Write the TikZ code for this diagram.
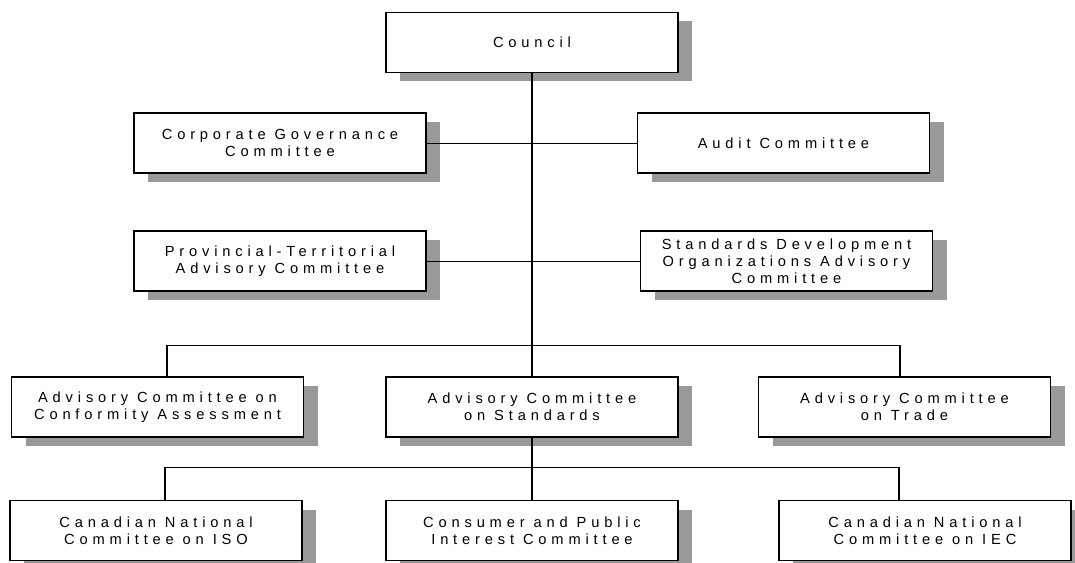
\documentclass[tikz,border=0pt]{standalone}
\usepackage{fontspec}
\setmainfont{Liberation Sans}[LetterSpace=33]
\usetikzlibrary{shadows}
\definecolor{shadowgray}{HTML}{999999}
\tikzset{
  unitbox/.style={draw, line width=1.4pt, fill=white, minimum width=219pt, minimum height=45pt,
    inner sep=0pt, align=center, font=\fontsize{11}{12.8}\selectfont,
    drop shadow={shadow xshift=10.5pt, shadow yshift=-6.75pt, fill=shadowgray, opacity=1}},
  trunk/.style={line width=1.5pt},
  bus/.style={line width=0.7pt}
}
\begin{document}
\begin{tikzpicture}[x=0.75pt, y=-0.75pt]
				\useasboundingbox (0,0) rectangle (1075,563);
				%Punts dels fils
				\coordinate (d1) at (167,345);
				\coordinate (d2) at (900,345);
				\coordinate (e1) at (165,467);
				\coordinate (e2) at (899,467);
				%Caixes
				\node[unitbox] (council) at (532,42.5) {Council};
				\node[unitbox] (corp) at (280,143) {Corporate Governance\\Committee};
				\node[unitbox] (audit) at (783.5,143) {Audit Committee};
				\node[unitbox] (prov) at (280,261) {Provincial-Territorial\\Advisory Committee};
				\node[unitbox] (sdo) at (786.5,261) {Standards Development\\Organizations Advisory\\Committee};
				\node[unitbox] (acca) at (157.5,407) {Advisory Committee on\\Conformity Assessment};
				\node[unitbox] (acs) at (532,407) {Advisory Committee\\on Standards};
				\node[unitbox] (act) at (904.5,407) {Advisory Committee\\on Trade};
				\node[unitbox] (iso) at (156,530.5) {Canadian National\\Committee on ISO};
				\node[unitbox] (cpic) at (532,530.5) {Consumer and Public\\Interest Committee};
				\node[unitbox] (iec) at (925,530.5) {Canadian National\\Committee on IEC};
				%Linies horitzontals
				\draw[bus] (corp.east) -- (audit.west);
				\draw[bus] (prov.east) -- (sdo.west);
				\draw[bus] (d1) -- (d2);
				\draw[bus] (e1) -- (e2);
				%Linies verticals
				\draw[trunk] (council.south) -- (acs.north);
				\draw[trunk] (d1) -- (d1 |- acca.north);
				\draw[trunk] (d2) -- (d2 |- act.north);
				\draw[trunk] (acs.south) -- (cpic.north);
				\draw[trunk] (e1) -- (e1 |- iso.north);
				\draw[trunk] (e2) -- (e2 |- iec.north);
			\end{tikzpicture}
\end{document}
